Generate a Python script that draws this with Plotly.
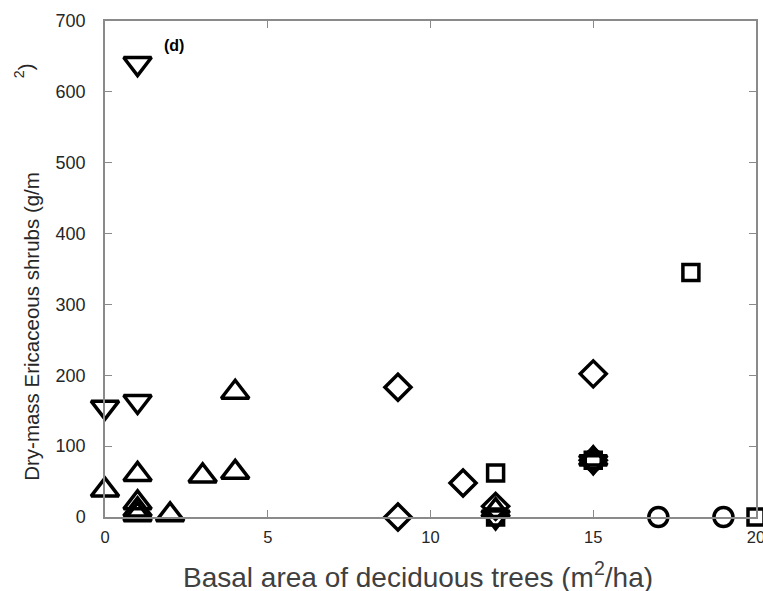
import plotly.graph_objects as go

# Data (basal area of deciduous trees, dry-mass Ericaceous shrubs)
tri_down_x = [1, 0, 1, 12, 15]
tri_down_y = [640, 155, 163, 0, 78]

tri_up_x = [0, 1, 1, 1, 1, 2, 3, 4, 4, 12, 15]
tri_up_y = [38, 60, 20, 10, 3, 3, 58, 176, 63, 9, 82]

diamond_x = [9, 9, 11, 12, 15, 15]
diamond_y = [183, 0, 48, 15, 202, 80]

square_x = [12, 12, 18, 20, 15]
square_y = [62, 0, 345, 0, 80]

circle_x = [17, 19, 15]
circle_y = [0, 0, 80]

x_ticks = [0, 5, 10, 15, 20]
y_ticks = [0, 100, 200, 300, 400, 500, 600, 700]

fig = go.Figure()

def add(xs, ys, symbol, size):
    fig.add_trace(go.Scatter(
        x=xs, y=ys, mode="markers",
        marker=dict(symbol=symbol, size=size, color="black",
                    line=dict(color="black", width=3.5)),
        showlegend=False, cliponaxis=False,
    ))

add(tri_down_x, tri_down_y, "triangle-down-open", 24)
add(tri_up_x, tri_up_y, "triangle-up-open", 24)
add(diamond_x, diamond_y, "diamond-open", 20)
add(square_x, square_y, "square-open", 16)
add(circle_x, circle_y, "circle-open", 19)

axis_common = dict(
    showline=True, linecolor="#8a8a8a", linewidth=1.5, mirror="ticks",
    ticks="inside", ticklen=7, tickcolor="#8a8a8a", tickwidth=1,
    showgrid=False, zeroline=False, automargin=False, ticklabeloverflow="allow",
)

fig.update_layout(
    width=763, height=591,
    margin=dict(l=105, r=7, t=21, b=74),
    paper_bgcolor="white", plot_bgcolor="white",
    xaxis=dict(range=[0, 20], tickvals=x_ticks, ticktext=[str(v) for v in x_ticks],
               ticklabelstandoff=4,
               tickfont=dict(family="Liberation Sans, Arial", size=16.5, color="#262626"),
               **axis_common),
    yaxis=dict(range=[0, 700], tickvals=y_ticks, ticktext=[str(v) for v in y_ticks],
               ticklabelstandoff=14,
               tickfont=dict(family="Liberation Sans, Arial", size=18, color="#262626"),
               **axis_common),
    annotations=[
        dict(text="Basal area of deciduous trees (m<sup>2</sup>/ha)", xref="paper", yref="paper",
             x=0.481, y=-0.117, xanchor="center", yanchor="middle", showarrow=False,
             font=dict(family="Liberation Sans, Arial", size=28, color="#404040")),
        dict(text="Dry-mass Ericaceous shrubs (g/m", xref="paper", yref="paper",
             x=-0.114, y=0.385, xanchor="center", yanchor="middle", showarrow=False, textangle=-90,
             font=dict(family="Liberation Sans, Arial", size=20.5, color="#262626")),
        dict(text="<sup>2</sup>)", xref="paper", yref="paper",
             x=-0.125, y=0.90, xanchor="center", yanchor="middle", showarrow=False, textangle=-90,
             font=dict(family="Liberation Sans, Arial", size=20.5, color="#262626")),
        dict(text="<b>(d)</b>", xref="x", yref="y", x=1.75, y=666, xanchor="left", yanchor="middle",
             showarrow=False, font=dict(family="Liberation Sans, Arial", size=16, color="black")),
    ],
)

fig.write_html("out.html")
